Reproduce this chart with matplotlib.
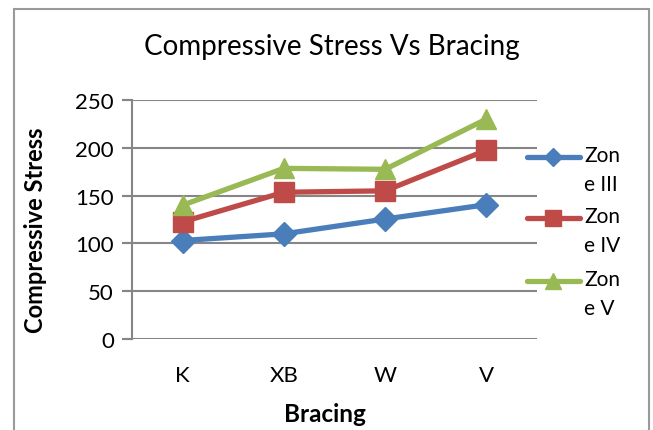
import matplotlib
matplotlib.use('Agg')
from matplotlib import pyplot as plt
from matplotlib.lines import Line2D
from matplotlib.patches import Rectangle

# data
bracing = ['K', 'XB', 'W', 'V']
zone_iii = [103, 110, 125.5, 140.5]
zone_iv = [122.5, 153.5, 155, 197.5]
zone_v = [140, 178.5, 177.5, 230]
series_labels = ['Zon\ne III', 'Zon\ne IV', 'Zon\ne V']

colors = ['#4A7EBB', '#BE4B48', '#98B954']
markers = ['D', 's', '^']
msizes = [12, 14.5, 15]
grid_gray = '#868686'

plt.rcParams['font.family'] = ['Lato', 'DejaVu Sans']

W, H = 653, 431
fig = plt.figure(figsize=(W / 100, H / 100), dpi=100)

# chart border
fig.add_artist(Rectangle((14 / W, -0.1), (649 - 14) / W, (H - 10) / H + 0.1,
                         transform=fig.transFigure, fill=False,
                         edgecolor='#9a9a9a', linewidth=1.5))

left, right, top, bottom = 132, 537, 101, 340
ax = fig.add_axes([left / W, 1 - bottom / H, (right - left) / W, (bottom - top) / H])

x = list(range(len(bracing)))
for vals, c, m, ms in zip([zone_iii, zone_iv, zone_v], colors, markers, msizes):
    ax.plot(x, vals, color=c, marker=m, markersize=ms, linewidth=3.8,
            solid_capstyle='round', zorder=3)

ax.set_xlim(-0.5, len(bracing) - 0.5)
ax.set_ylim(0, 250)
ax.set_yticks(range(0, 251, 50))
ax.set_xticks(x)
ax.set_xticklabels(bracing)
ax.tick_params(axis='x', length=0, pad=19, labelsize=16)
ax.tick_params(axis='y', length=7, width=1.5, color=grid_gray, pad=6, labelsize=16)
for s in ['top', 'right', 'bottom']:
    ax.spines[s].set_visible(False)
ax.spines['left'].set_color(grid_gray)
ax.spines['left'].set_linewidth(1.5)
ax.grid(axis='y', color=grid_gray, linewidth=1.5, zorder=0)
ax.set_axisbelow(True)
# gridlines start at the tick mark
for yv in range(0, 251, 50):
    ax.plot([-0.5 - 8 / 101, -0.5], [yv, yv], color=grid_gray, linewidth=1.5,
            clip_on=False, zorder=1)

fig.text(332 / W, 1 - 47 / H, 'Compressive Stress Vs Bracing', ha='center',
         va='center', fontsize=20)
fig.text(36 / W, 1 - 230 / H, 'Compressive Stress', rotation=90, ha='center',
         va='center', fontsize=17, fontweight='bold')
fig.text(325 / W, 1 - 415 / H, 'Bracing', ha='center', va='center',
         fontsize=17.5, fontweight='bold')

# legend, handle aligned with the first text line
leg_y = [158, 219, 282]
for yy, c, m, ms, lab in zip(leg_y, colors, markers, msizes, series_labels):
    fy = 1 - yy / H
    fig.add_artist(Line2D([527 / W, 580 / W], [fy, fy], color=c, linewidth=3.8,
                          solid_capstyle='round', transform=fig.transFigure))
    fig.add_artist(Line2D([553 / W], [fy], color=c, marker=m, markersize=ms * 0.75,
                          transform=fig.transFigure))
    fig.text(584 / W, fy + 12 / H, lab, ha='left', va='top', fontsize=15,
             linespacing=1.55, transform=fig.transFigure)

fig.savefig('out.png', dpi=100)
